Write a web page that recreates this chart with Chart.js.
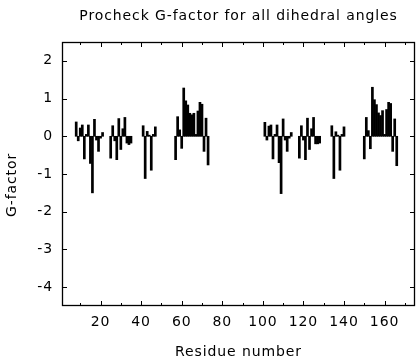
<!DOCTYPE html>
<html>
<head>
<meta charset="utf-8">
<script src="https://cdn.jsdelivr.net/npm/chart.js@4"></script>
<style>
  html, body { margin: 0; padding: 0; background: #fff; }
</style>
</head>
<body>
<canvas id="gfactor" width="416" height="360"></canvas>
<script>
// chain A
const residuesA = [8, 9, 10, 11, 12, 13, 14, 15, 16, 17, 18, 19, 20, 21,
  25, 26, 27, 28, 29, 30, 31, 32, 33, 34, 35,
  41, 42, 43, 44, 45, 46, 47,
  57, 58, 59, 60, 61, 62, 63, 64, 65, 66, 67, 68, 69, 70, 71, 72, 73];
const gfactorA = [0.38, -0.12, 0.22, 0.3, -0.6, 0.05, 0.3, -0.72, -1.5, 0.45, -0.1, -0.4, -0.05, 0.1,
  -0.58, 0.28, -0.12, -0.62, 0.47, -0.35, 0.2, 0.5, -0.18, -0.22, -0.18,
  0.28, -1.12, 0.13, 0.03, -0.9, 0.05, 0.25,
  -0.62, 0.52, 0.17, -0.32, 1.28, 0.94, 0.83, 0.61, 0.57, 0.61, 0.05, 0.67, 0.9, 0.85, -0.4, 0.48, -0.76];

// chain B
const residuesB = [101, 102, 103, 104, 105, 106, 107, 108, 109, 110, 111, 112, 113, 114,
  118, 119, 120, 121, 122, 123, 124, 125, 126, 127, 128,
  134, 135, 136, 137, 138, 139, 140,
  150, 151, 152, 153, 154, 155, 156, 157, 158, 159, 160, 161, 162, 163, 164, 165, 166];
const gfactorB = [0.37, -0.1, 0.27, 0.3, -0.6, 0.05, 0.3, -0.7, -1.52, 0.46, -0.1, -0.4, -0.05, 0.1,
  -0.58, 0.28, -0.1, -0.62, 0.48, -0.35, 0.2, 0.5, -0.2, -0.2, -0.18,
  0.28, -1.12, 0.12, 0.03, -0.9, 0.05, 0.25,
  -0.6, 0.5, 0.15, -0.33, 1.3, 0.97, 0.84, 0.62, 0.55, 0.68, 0.05, 0.71, 0.9, 0.87, -0.4, 0.46, -0.78];

const xLabelTicks = [20, 40, 60, 80, 100, 120, 140, 160];
const xTickMarks = [10, 20, 30, 40, 50, 60, 70, 80, 90, 100, 110, 120, 130, 140, 150, 160, 170];
const yTicks = [-4, -3, -2, -1, 0, 1, 2];

const FONT = '"DejaVu Sans", "Liberation Sans", sans-serif';

const toPoints = (xs, ys) => xs.map((r, i) => ({x: r, y: ys[i]}));

// the reference text is a bit wide, so open the letters up slightly
const spacing = {
  id: 'spacing',
  beforeDraw(chart) { chart.ctx.letterSpacing = '0.9px'; }
};

// gnuplot-like frame: closed box, inward ticks on all four sides
const frame = {
  id: 'frame',
  afterDatasetsDraw(chart) {
    const {ctx, chartArea: a, scales: {x, y}} = chart;
    ctx.save();
    ctx.strokeStyle = '#000';
    ctx.lineWidth = 1;
    ctx.beginPath();
    xTickMarks.forEach(v => {
      const len = v % 20 === 0 ? 5 : 3;
      const px = Math.round(x.getPixelForValue(v)) + 0.5;
      ctx.moveTo(px, a.bottom); ctx.lineTo(px, a.bottom - len);
      ctx.moveTo(px, a.top); ctx.lineTo(px, a.top + len);
    });
    yTicks.forEach(v => {
      const py = Math.round(y.getPixelForValue(v)) + 0.5;
      ctx.moveTo(a.left, py); ctx.lineTo(a.left + 5, py);
      ctx.moveTo(a.right, py); ctx.lineTo(a.right - 5, py);
    });
    ctx.stroke();
    ctx.lineWidth = 1.3;
    ctx.strokeRect(a.left + 0.5, a.top + 0.5, a.width - 1, a.height - 1);

    ctx.fillStyle = '#000';
    ctx.font = '14px ' + FONT;
    ctx.textAlign = 'center';
    ctx.textBaseline = 'alphabetic';
    ctx.fillText('Procheck G-factor for all dihedral angles', (a.left + a.right) / 2, 19.5);

    ctx.translate(15.5, 185);
    ctx.rotate(-Math.PI / 2);
    ctx.fillText('G-factor', 0, 0);
    ctx.restore();
  }
};

new Chart(document.getElementById('gfactor'), {
  type: 'bar',
  data: {
    datasets: [{
      label: 'Chain A',
      data: toPoints(residuesA, gfactorA),
      backgroundColor: '#000',
      borderWidth: 0,
      grouped: false,
      barPercentage: 1,
      categoryPercentage: 1
    }, {
      label: 'Chain B',
      data: toPoints(residuesB, gfactorB),
      backgroundColor: '#000',
      borderWidth: 0,
      grouped: false,
      barPercentage: 1,
      categoryPercentage: 1
    }]
  },
  options: {
    responsive: false,
    animation: false,
    layout: { padding: { top: 42, right: 1, left: 0, bottom: 0 } },
    plugins: {
      legend: { display: false },
      tooltip: { enabled: false },
      title: { display: false }
    },
    scales: {
      x: {
        type: 'linear',
        offset: false,
        min: 1,
        max: 175,
        grid: { display: false, drawTicks: false },
        border: { display: false },
        afterBuildTicks: s => { s.ticks = xLabelTicks.map(v => ({value: v})); },
        afterFit: s => { s.height = 54; },
        ticks: {
          color: '#000',
          padding: 8,
          maxRotation: 0,
          autoSkip: false,
          font: { family: FONT, size: 14 }
        },
        title: {
          display: true,
          text: 'Residue number',
          color: '#000',
          padding: { top: 0, bottom: -1 },
          font: { family: FONT, size: 14 }
        }
      },
      y: {
        min: -4.5,
        max: 2.5,
        grid: { display: false, drawTicks: false },
        border: { display: false },
        afterBuildTicks: s => { s.ticks = yTicks.map(v => ({value: v})); },
        afterFit: s => { s.width = 62; },
        ticks: {
          color: '#000',
          padding: 9,
          font: { family: FONT, size: 14 }
        }
      }
    }
  },
  plugins: [spacing, frame]
});
</script>
</body>
</html>
